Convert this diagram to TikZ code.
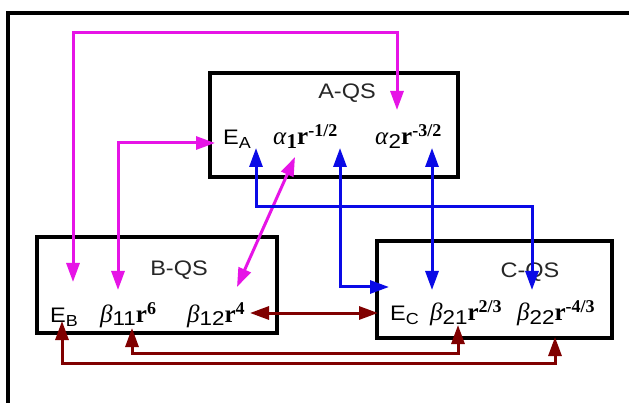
\documentclass[tikz,border=0pt]{standalone}
\usepackage{fontspec}
\setmainfont{Liberation Serif}
\newfontfamily\hv[FakeStretch=1.12]{Liberation Sans}
\usetikzlibrary{arrows.meta}
\definecolor{mag}{RGB}{230,20,230}
\definecolor{blu}{RGB}{10,10,230}
\definecolor{dred}{RGB}{128,0,0}
\newcommand\Elab[1]{{\hv\fontsize{21}{21}\selectfont E\raisebox{-4pt}{\fontsize{16}{16}\selectfont #1}}}
\newcommand\sfsub[1]{\raisebox{-4pt}{\hv\fontsize{20}{20}\selectfont #1}}
\newcommand\bsub[1]{\raisebox{-4pt}{\fontsize{21}{21}\selectfont\bfseries #1}}
\newcommand\rexp[1]{\textbf{r}\raisebox{8pt}{\fontsize{18}{18}\selectfont\bfseries #1}}
\begin{document}
\begin{tikzpicture}[x=1pt,y=-1pt,
  qsbox/.style={draw=black,line width=3.5pt,inner sep=0pt},
  conn/.style={line width=3pt,line join=miter,{Triangle[length=19pt,width=13pt]}-{Triangle[length=19pt,width=13pt]}},
  lbl/.style={inner sep=0pt,anchor=base west,font=\fontsize{25}{25}\selectfont},
  title/.style={inner sep=0pt,text=black!85,font=\hv\fontsize{21}{21}\selectfont}]
\useasboundingbox (0,0) rectangle (629,403);
\clip (0,0) rectangle (629,403);
\fill[white] (0,0) rectangle (629,403);
% outer frame (cut by the page edges)
\draw[line width=4pt] (8,430) -- (8,13) -- (650,13);

% boxes
\node[qsbox,minimum width=248pt,minimum height=104pt] (A) at (334,125) {};
\node[qsbox,minimum width=240pt,minimum height=96pt] (B) at (157,285) {};
\node[qsbox,minimum width=235pt,minimum height=97pt] (C) at (494.5,289.5) {};

% titles
\node[title] (At) at (347,93) {A-QS};
\node[title] (Bt) at (179,270) {B-QS};
\node[title] (Ct) at (530,272) {C-QS};

% labels
\node[lbl] (ea) at (223,145) {\Elab{A}};
\node[lbl] (a1) at (273,145) {\textit{α}\bsub{1}\rexp{-1/2}};
\node[lbl] (a2) at (375,145) {\textit{α}\sfsub{2}\rexp{-3/2}};
\node[lbl] (eb) at (50,323) {\Elab{B}};
\node[lbl] (b11) at (100,322) {\textit{β}\sfsub{11}\rexp{6}};
\node[lbl] (b12) at (187,322) {\textit{β}\sfsub{12}\rexp{4}};
\node[lbl] (ec) at (390,320) {\Elab{C}};
\node[lbl] (b21) at (430,320) {\textit{β}\sfsub{21}\rexp{2/3}};
\node[lbl] (b22) at (517,320) {\textit{β}\sfsub{22}\rexp{-4/3}};

% connector end points
\coordinate (ebT) at (73,282);
\coordinate (a2T) at (397,110);
\coordinate (mtop) at (0,33);
\coordinate (eaW) at (215,143);
\coordinate (b11T) at (118,290);
\coordinate (a1B) at (295,157);
\coordinate (b12T) at (237,287);
\coordinate (eaB) at (256,148);
\coordinate (b22T) at (532,290);
\coordinate (bmid) at (0,207);
\coordinate (a1Bb) at (340,148);
\coordinate (ecW) at (389,287);
\coordinate (a2B) at (432,148);
\coordinate (b21T) at (432,290);
\coordinate (b12E) at (250,313);
\coordinate (ecW2) at (378,313);
\coordinate (b11B) at (132,328);
\coordinate (b21B) at (458,325);
\coordinate (rmid) at (0,353);
\coordinate (ebB) at (62,321);
\coordinate (b22B) at (555,337);
\coordinate (rlow) at (0,363);

% magenta
\draw[conn,mag] (ebT) -- (ebT |- mtop) -| (a2T);
\draw[conn,mag] (eaW) -| (b11T);
\draw[conn,mag] (a1B) -- (b12T);
% blue
\draw[conn,blu] (eaB) -- (eaB |- bmid) -| (b22T);
\draw[conn,blu] (a1Bb) |- (ecW);
\draw[conn,blu] (a2B) -- (b21T);
% dark red
\draw[conn,dred] (b12E) -- (ecW2);
\draw[conn,dred] (b11B) -- (b11B |- rmid) -| (b21B);
\draw[conn,dred] (ebB) -- (ebB |- rlow) -| (b22B);
\end{tikzpicture}
\end{document}
